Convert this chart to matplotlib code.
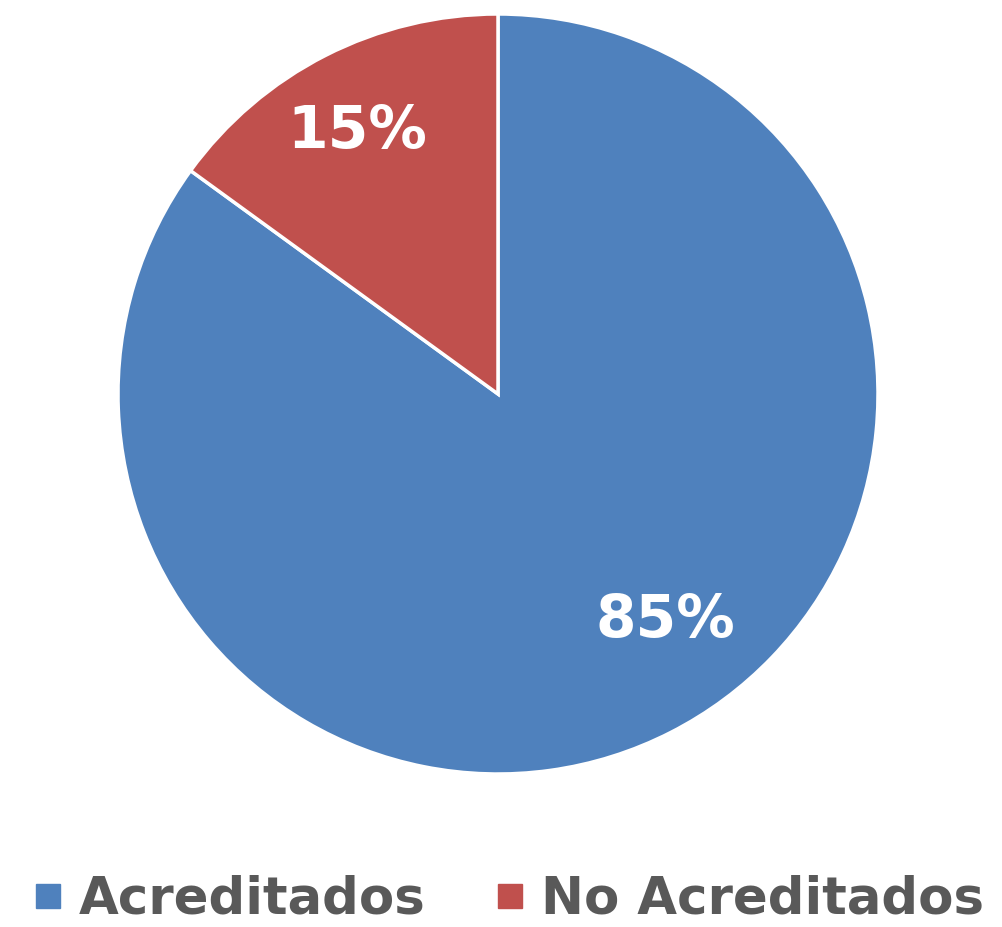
import numpy as np
import matplotlib.pyplot as plt
from matplotlib.lines import Line2D

labels = ["Acreditados", "No Acreditados"]
values = [85, 15]
colors = ["#4F81BD", "#C0504D"]

plt.rcParams['font.family'] = ['DejaVu Sans']

W, H = 1002, 927
fig = plt.figure(figsize=(W / 100, H / 100), dpi=100)
# pie centre (498, 394) px, radius 380 px
r = 380
ax = fig.add_axes([(498 - r) / W, (H - 394 - r) / H, 2 * r / W, 2 * r / H])

wedges, texts, autotexts = ax.pie(
    values, colors=colors, startangle=90, counterclock=False,
    autopct=lambda p: f"{p:.0f}%", pctdistance=0.79, radius=1,
    wedgeprops=dict(edgecolor="white", linewidth=2.5),
    textprops=dict(color="white", fontsize=42, fontweight="bold"))
ax.set_xlim(-1, 1)
ax.set_ylim(-1, 1)
ax.set_aspect("equal")

# Excel-style best-fit placement of the large slice label
ang = np.deg2rad(-53.5)
autotexts[0].set_position((0.74 * np.cos(ang), 0.74 * np.sin(ang)))
autotexts[1].set_position((-0.37, 0.69))

handles = [Line2D([], [], marker="s", linestyle="", markersize=17,
                  markerfacecolor=c, markeredgecolor=c) for c in colors]
leg = fig.legend(handles, labels, loc="center", bbox_to_anchor=(0.507, (H - 900) / H),
                 ncol=2, frameon=False, fontsize=37, handlelength=0.6,
                 handletextpad=0.3, columnspacing=1.35, borderpad=0)
for t in leg.get_texts():
    t.set_color("#595959")
    t.set_fontweight("bold")

fig.savefig("out.png", dpi=100)
